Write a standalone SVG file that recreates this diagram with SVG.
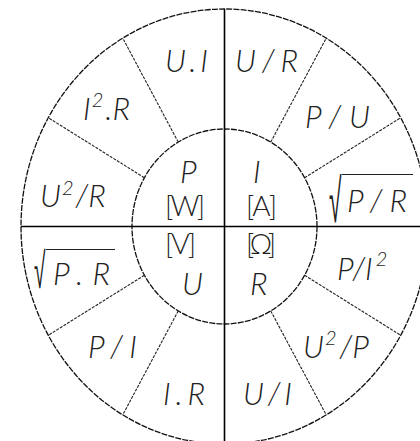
<svg xmlns="http://www.w3.org/2000/svg" width="420" height="441" viewBox="0 0 420 441">
<style>
.ring{fill:none;stroke:#111;stroke-width:1.3;stroke-dasharray:6 1.2}
.spoke{stroke:#222;stroke-width:1.1;stroke-dasharray:3 1.2}
.axis{stroke:#000;stroke-width:1.6}
.lbl{font-family:"Lato","Liberation Sans",sans-serif;font-style:italic;font-weight:300;font-size:31px;fill:#222}
.unit{font-family:"Lato","Liberation Sans",sans-serif;font-weight:300;font-size:28px;fill:#222}
.sup{font-size:20px}
.vinc{stroke:#222;stroke-width:1.2}
.rad{font-family:"DejaVu Sans","Liberation Sans",sans-serif;font-weight:200;font-size:38px;fill:#222}
</style>
<rect width="420" height="441" fill="#fff"/>
<g id="connectors">
<ellipse class="ring" cx="224.5" cy="226.5" rx="203.5" ry="217.5"/>
<ellipse class="ring" cx="224.5" cy="226.5" rx="92.5" ry="97.5"/>
<line class="spoke" x1="270.75" y1="142.1" x2="326.25" y2="38.1"/>
<line class="spoke" x1="304.6" y1="177.75" x2="400.7" y2="117.75"/>
<line class="spoke" x1="178.25" y1="142.1" x2="122.75" y2="38.1"/>
<line class="spoke" x1="144.4" y1="177.75" x2="48.3" y2="117.75"/>
<line class="spoke" x1="144.4" y1="275.25" x2="48.3" y2="335.25"/>
<line class="spoke" x1="178.25" y1="310.9" x2="122.75" y2="414.9"/>
<line class="spoke" x1="304.6" y1="275.25" x2="400.7" y2="335.25"/>
<line class="spoke" x1="270.75" y1="310.9" x2="326.25" y2="414.9"/>
<line class="axis" x1="224.5" y1="9" x2="224.5" y2="441"/>
<line class="axis" x1="21" y1="226.5" x2="420" y2="226.5"/>
</g>
<g id="node-P"><text class="lbl" x="180" y="183">P</text><text class="unit" x="165" y="216" textLength="40" lengthAdjust="spacing">[W]</text></g>
<g id="node-I"><text class="lbl" x="253" y="183">I</text><text class="unit" x="246" y="216" textLength="31" lengthAdjust="spacing">[A]</text></g>
<g id="node-U"><text class="unit" x="165" y="254" textLength="31" lengthAdjust="spacing">[V]</text><text class="lbl" x="182" y="295">U</text></g>
<g id="node-R"><text class="unit" x="246" y="254" textLength="30" lengthAdjust="spacing">[Ω]</text><text class="lbl" x="250" y="295">R</text></g>
<g id="seg-UI"><text class="lbl" x="165" y="72" textLength="43" lengthAdjust="spacing">U.I</text></g>
<g id="seg-UdivR"><text class="lbl" x="235" y="72" textLength="63" lengthAdjust="spacing">U/R</text></g>
<g id="seg-I2R"><text class="lbl" x="83" y="120">I<tspan class="sup" dy="-13" dx="1">2</tspan><tspan dy="13" dx="2">.R</tspan></text></g>
<g id="seg-PdivU"><text class="lbl" x="305" y="128" textLength="65" lengthAdjust="spacing">P/U</text></g>
<g id="seg-U2divR"><text class="lbl" x="40" y="207">U<tspan class="sup" dy="-12" dx="1">2</tspan><tspan dy="12" dx="2">/R</tspan></text></g>
<g id="seg-sqrtPdivR"><text class="rad" transform="translate(329,222) scale(0.6,1.6)">√</text><line class="vinc" x1="342" y1="174.5" x2="413" y2="174.5"/><text class="lbl" x="347" y="212" textLength="60" lengthAdjust="spacing">P/R</text></g>
<g id="seg-sqrtPR"><text class="rad" transform="translate(34,288) scale(0.55,1.3)">√</text><line class="vinc" x1="46" y1="249.5" x2="115" y2="249.5"/><text class="lbl" x="53" y="285" textLength="57" lengthAdjust="spacing">P.R</text></g>
<g id="seg-PdivI2"><text class="lbl" x="337" y="280">P/I<tspan class="sup" dy="-14" dx="3">2</tspan></text></g>
<g id="seg-U2divP"><text class="lbl" x="303" y="358">U<tspan class="sup" dy="-13" dx="1">2</tspan><tspan dy="13" dx="3">/P</tspan></text></g>
<g id="seg-PdivI"><text class="lbl" x="88" y="358" textLength="49" lengthAdjust="spacing">P/I</text></g>
<g id="seg-IR"><text class="lbl" x="163" y="405" textLength="42" lengthAdjust="spacing">I.R</text></g>
<g id="seg-UdivI"><text class="lbl" x="243" y="405" textLength="49" lengthAdjust="spacing">U/I</text></g>
</svg>
